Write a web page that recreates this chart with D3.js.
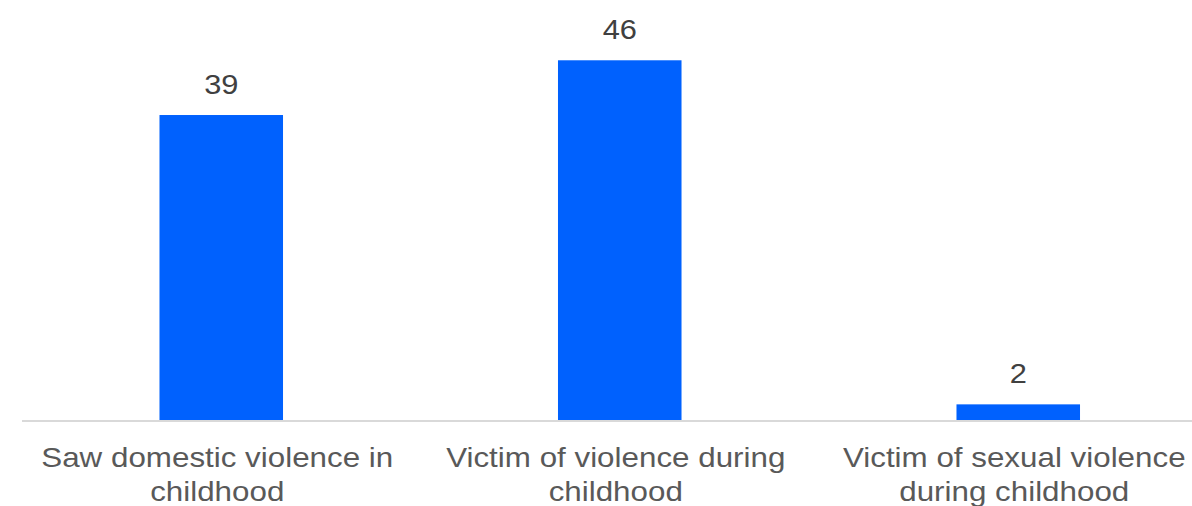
<!DOCTYPE html>
<html>
<head>
<meta charset="utf-8">
<script src="https://cdn.jsdelivr.net/npm/d3@7"></script>
<style>
  html, body { margin: 0; padding: 0; background: #ffffff; }
  svg { display: block; }
  text { font-family: "Liberation Sans", Arial, sans-serif; }
</style>
</head>
<body>
<div id="chart"></div>
<script>
const categories = [
  "Saw domestic violence in childhood",
  "Victim of violence during childhood",
  "Victim of sexual violence during childhood"
];
const values = [39, 46, 2];

const W = 1192, H = 506;
const baseY = 420;
const stretch = 1.12;

const svg = d3.select("#chart").append("svg")
  .attr("width", W).attr("height", H);

const x = d3.scaleBand()
  .domain(categories)
  .range([22, 1217.5])
  .paddingInner(0.69)
  .paddingOuter(0.345);

const y = d3.scaleLinear()
  .domain([0, 50])
  .range([baseY, 29]);

// bars
svg.append("g").selectAll("rect")
  .data(values)
  .join("rect")
  .attr("x", (d, i) => x(categories[i]))
  .attr("width", x.bandwidth())
  .attr("y", d => y(d))
  .attr("height", d => y(0) - y(d))
  .attr("fill", "#0061fe");

// baseline
svg.append("line")
  .attr("x1", 22).attr("x2", W)
  .attr("y1", baseY + 1).attr("y2", baseY + 1)
  .attr("stroke", "#d9d9d9")
  .attr("stroke-width", 2);

// value labels
svg.append("g").selectAll("text")
  .data(values)
  .join("text")
  .attr("transform", (d, i) =>
    `translate(${x(categories[i]) + x.bandwidth() / 2},${y(d) - 21.5}) scale(1.1,1)`)
  .attr("text-anchor", "middle")
  .attr("font-size", 28)
  .attr("fill", "#404040")
  .text(d => d);

// category labels (wrapped)
const maxW = 385;
const labelG = svg.append("g");
categories.forEach(cat => {
  const cx = x(cat) + x.bandwidth() / 2 - 4;
  const words = cat.split(" ");
  const lines = [];
  let cur = [];
  const probe = labelG.append("text").attr("font-size", 28);
  words.forEach(w => {
    const test = cur.concat([w]).join(" ");
    probe.text(test);
    if (probe.node().getComputedTextLength() * stretch > maxW && cur.length) {
      lines.push(cur.join(" "));
      cur = [w];
    } else {
      cur.push(w);
    }
  });
  if (cur.length) lines.push(cur.join(" "));
  probe.remove();
  lines.forEach((ln, li) => {
    labelG.append("text")
      .attr("transform", `translate(${cx},${467 + li * 33.5}) scale(${stretch},1)`)
      .attr("text-anchor", "middle")
      .attr("font-size", 28)
      .attr("fill", "#595959")
      .text(ln);
  });
});
</script>
</body>
</html>
